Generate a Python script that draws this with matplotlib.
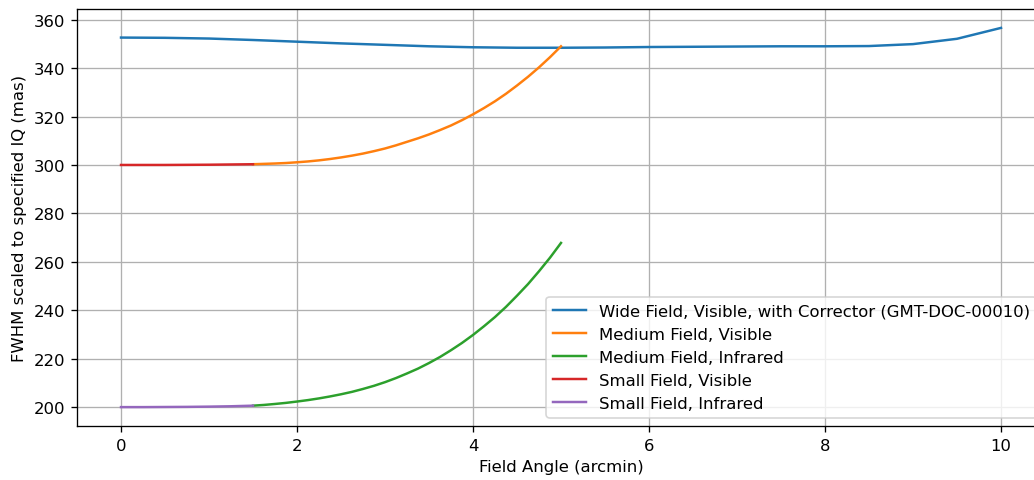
import matplotlib
matplotlib.use("Agg")
import matplotlib.pyplot as plt

# Wide field, visible, with corrector
wide_x = [0.0, 0.5, 1.0, 1.5, 2.0, 2.5, 3.0, 3.5, 4.0, 4.5, 5.0,
          5.5, 6.0, 6.5, 7.0, 7.5, 8.0, 8.5, 9.0, 9.5, 10.0]
wide_vis = [352.6, 352.5, 352.2, 351.6, 350.9, 350.2, 349.6, 349.0, 348.6, 348.4, 348.4,
            348.5, 348.7, 348.8, 348.9, 349.0, 349.0, 349.1, 349.9, 352.1, 356.6]

# Medium field (1.5 - 5 arcmin)
med_x = [1.5, 1.625, 1.75, 1.875, 2.0, 2.125, 2.25, 2.375, 2.5, 2.625, 2.75, 2.875,
         3.0, 3.125, 3.25, 3.375, 3.5, 3.625, 3.75, 3.875, 4.0, 4.125, 4.25, 4.375,
         4.5, 4.625, 4.75, 4.875, 5.0]
med_vis = [300.3, 300.45, 300.6, 300.8, 301.1, 301.45, 301.9, 302.45, 303.1, 303.85,
           304.7, 305.7, 306.8, 308.1, 309.55, 311.0, 312.6, 314.4, 316.3, 318.5,
           320.9, 323.5, 326.3, 329.4, 332.8, 336.4, 340.3, 344.5, 349.0]
med_ir = [200.6, 200.9, 201.3, 201.75, 202.3, 202.9, 203.6, 204.4, 205.3, 206.3,
          207.5, 208.8, 210.3, 212.0, 213.9, 215.9, 218.2, 220.7, 223.5, 226.5,
          229.8, 233.4, 237.2, 241.4, 246.0, 250.8, 256.1, 261.7, 267.8]

# Small field (0 - 1.5 arcmin)
small_x = [0.0, 0.25, 0.5, 0.75, 1.0, 1.25, 1.5]
small_vis = [300.0, 300.0, 300.0, 300.05, 300.1, 300.2, 300.3]
small_ir = [200.0, 200.0, 200.05, 200.1, 200.2, 200.35, 200.6]

dpi = 118.5
fig = plt.figure(figsize=(1034 / dpi, 481 / dpi), dpi=dpi)
ax = fig.add_axes([77 / 1034, 54 / 481, 968 / 1034, 417 / 481])

ax.plot(wide_x, wide_vis, label="Wide Field, Visible, with Corrector (GMT-DOC-00010)")
ax.plot(med_x, med_vis, label="Medium Field, Visible")
ax.plot(med_x, med_ir, label="Medium Field, Infrared")
ax.plot(small_x, small_vis, label="Small Field, Visible")
ax.plot(small_x, small_ir, label="Small Field, Infrared")

ax.set_xlim(-0.5, 10.5)
ax.set_ylim(192.2, 364.4)
ax.set_xlabel("Field Angle (arcmin)")
ax.set_ylabel("FWHM scaled to specified IQ (mas)")
ax.grid(True)
ax.legend(loc="lower right")

plt.savefig("out.png", dpi=dpi)
